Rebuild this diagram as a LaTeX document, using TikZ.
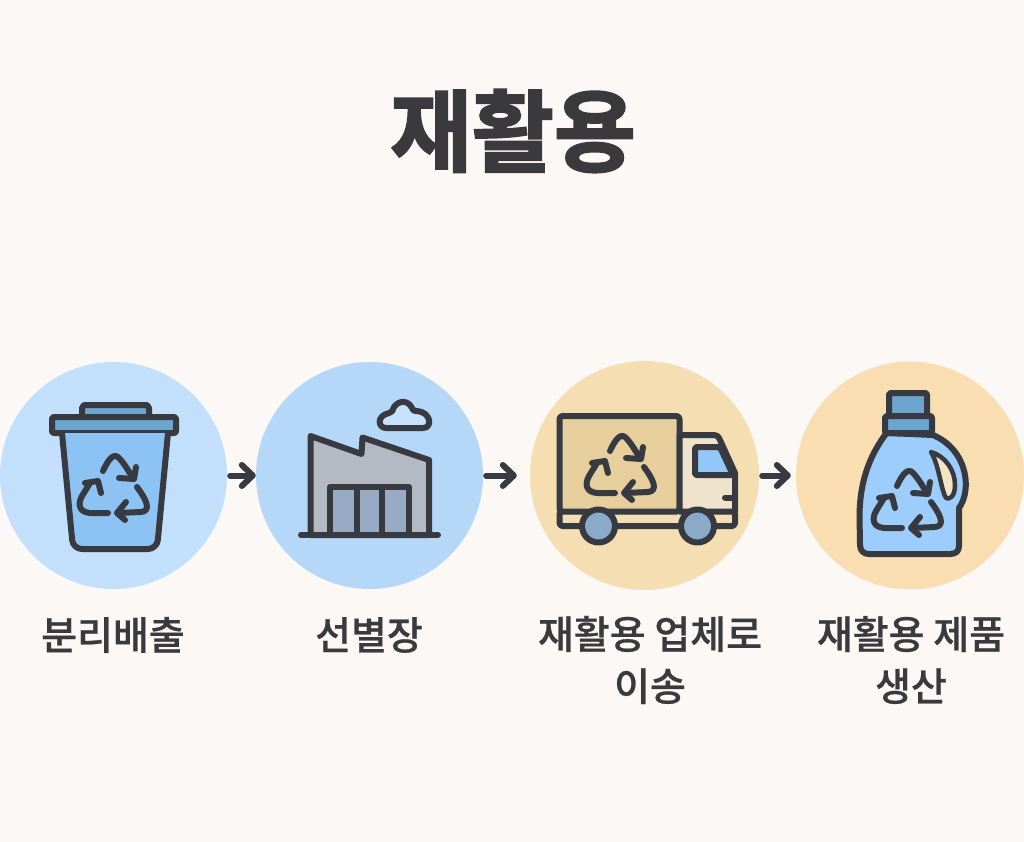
\documentclass[tikz,border=0pt]{standalone}
\usepackage{fontspec}
\newfontfamily\titlefont[FakeBold=2.2]{Noto Sans CJK KR Bold}
\newfontfamily\labelfont[FakeBold=0.6]{Noto Sans CJK KR Medium}
\usetikzlibrary{arrows.meta}
\definecolor{paper}{HTML}{FCF8F5}
\definecolor{ink}{HTML}{373A40}
\definecolor{type}{HTML}{3A3A3C}
\definecolor{skyA}{HTML}{C2E0FC}
\definecolor{skyB}{HTML}{B5D7F8}
\definecolor{sandA}{HTML}{F5DFB2}
\definecolor{sandB}{HTML}{F9DEB2}
\definecolor{lidblue}{HTML}{6CA5CE}
\definecolor{binblue}{HTML}{8DC3F3}
\definecolor{wallgrey}{HTML}{B4BAC4}
\definecolor{doorgrey}{HTML}{98ABC4}
\definecolor{cloudblue}{HTML}{C4E2FC}
\definecolor{chassis}{HTML}{F3DFB3}
\definecolor{cargo}{HTML}{E6CE9D}
\definecolor{cab}{HTML}{EFE3CB}
\definecolor{glass}{HTML}{93C7FA}
\definecolor{wheel}{HTML}{8BAAC9}
\definecolor{bottleblue}{HTML}{9CCDFC}
\definecolor{grip}{HTML}{F3E4C4}
\tikzset{
	disc/.style = {circle, minimum size=#1, inner sep=0pt},
	icon/.style = {draw=ink, line width=6pt, line join=round, line cap=round},
	flow/.style = {draw=ink, line width=6pt, line cap=round, shorten <=3pt, -{Straight Barb[length=11pt, width=21pt, line width=6pt, round]}},
	steptext/.style = {text=type, font=\labelfont\fontsize{39}{52}\selectfont, align=center},
	recycle/.pic = {
		\draw[icon] (-11,-15) .. controls (-6,-26) and (0,-35) .. (6,-27) .. controls (12,-20) and (15,-14) .. (19,-8);
		\draw[icon] (5,-8) -- (20,-7) -- (22,-19);
		\draw[icon] (-6,27) -- (-24,27) .. controls (-36,26) and (-36,17) .. (-32,10) -- (-24,-3);
		\draw[icon] (-29,-3) -- (-16,-5) -- (-13,7);
		\draw[icon] (23,1) .. controls (32,13) and (38,25) .. (27,26) -- (4,27);
		\draw[icon] (12,16) -- (3,27) -- (11,34);
	}
}
\begin{document}
\begin{tikzpicture}[x=1pt, y=-1pt]
	\useasboundingbox[fill=paper] (0,0) rectangle (1024,842);
	\node[text=type, font=\titlefont\fontsize{89}{89}\selectfont] (title) at (513,131) {재활용};

	\node[disc=227pt, fill=skyA] (bin) at (113.5,475.5) {};
	\node[disc=227pt, fill=skyB] (plant) at (369.5,475.5) {};
	\node[disc=229pt, fill=sandA] (truck) at (644.5,475.5) {};
	\node[disc=228pt, fill=sandB] (bottle) at (910,475.5) {};

	\draw[flow] (bin.east) -- (plant.west);
	\draw[flow] (plant.east) -- ([xshift=-13pt]truck.west);
	\draw[flow, shorten >=5pt] (truck.east) -- (bottle.west);

	\draw[icon, fill=lidblue] (82,415) -- (82,408) -- ++(2,-3) -- (147,405) -- ++(2,3) -- (149,415);
	\draw[icon, fill=lidblue, rounded corners=2pt] (52,417) rectangle (176,433);
	\draw[icon, fill=binblue, rounded corners=9pt] (62,433) -- (73,549) -- (157,549) -- (168,433);
	\pic at (114,486) {recycle};

	\draw[icon, fill=wallgrey] (310.5,436) -- (361.5,454) -- (362.5,437.5) -- (429,460) -- (429,535) -- (310.5,535) -- cycle;
	\draw[icon, fill=doorgrey] (330,535) -- (330,487) -- (409,487) -- (409,535);
	\draw[icon] (356.5,487) -- (356.5,535) (382,487) -- (382,535);
	\draw[icon] (301,535) -- (438,535);
	\draw[icon, fill=cloudblue] (386,428) .. controls (378,428) and (376,416) .. (389,413) .. controls (392,412) and (392,412) .. (394,407) .. controls (399,400) and (408,400) .. (412,408) .. controls (413,411) and (414,411) .. (417,411) .. controls (431,412) and (433,428) .. (423,428) -- cycle;

	\draw[icon, fill=chassis, rounded corners=3pt] (559.5,511) rectangle (735,526);
	\draw[icon, fill=cargo, rounded corners=3pt] (559.5,511.5) -- (559.5,416) -- (679.5,416) -- (679.5,511.5) -- cycle;
	\draw[icon, fill=cab] (679.5,435) -- (714,435) .. controls (717,435) and (718,436) .. (720,440) -- (735,473) -- (735,511.5) -- (679.5,511.5) -- cycle;
	\draw[icon, fill=glass, rounded corners=2pt] (695,447) -- (720,447) -- (733,475) -- (695,475) -- cycle;
	\draw[icon] (725,497.5) -- (733,497.5);
	\draw[icon, fill=wheel] (598.5,526) circle (16.5);
	\draw[icon, fill=wheel] (697.5,526) circle (16.5);
	\pic at (621,466) {recycle};

	\draw[icon, fill=bottleblue] (886.5,433) .. controls (870,455) and (860,480) .. (859.5,515) -- (860,545) .. controls (860,551) and (864,554) .. (869,554) -- (950,554) .. controls (956,554) and (959,551) .. (959,546) -- (959,508) .. controls (972,490) and (968,450) .. (933,435) -- cycle;
	\draw[icon, fill=lidblue, rounded corners=2pt] (889,415) -- (889,393) -- (927,393) -- (927,415);
	\draw[icon, fill=lidblue, rounded corners=2pt] (885,416) rectangle (932,433);
	\draw[draw=ink, line width=4.5pt, line join=round, fill=grip] (931,452) .. controls (945,456) and (955,470) .. (955,485) .. controls (955,497) and (949,500) .. (946,498) .. controls (941,490) and (939,465) .. cycle;
	\pic at (908,501) {recycle};

	\node[steptext] (sort) at (113,635) {분리배출};
	\node[steptext] (pick) at (369,635) {선별장};
	\node[steptext] (move) at (650,660) {재활용 업체로\\이송};
	\node[steptext] (make) at (911,660) {재활용 제품\\생산};
\end{tikzpicture}
\end{document}
